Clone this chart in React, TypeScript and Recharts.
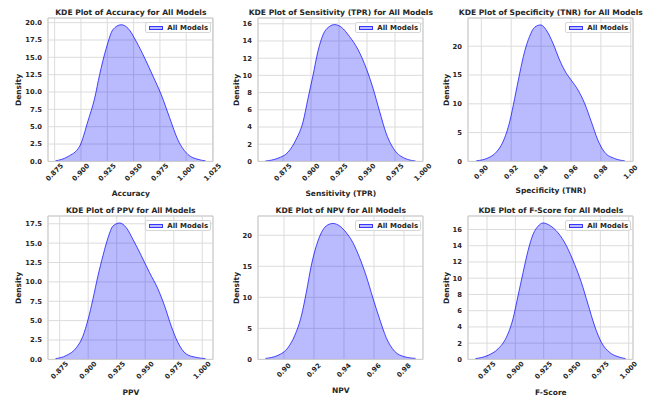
import React from 'react';
import { AreaChart, Area, XAxis, YAxis, CartesianGrid, ReferenceArea } from 'recharts';

const FONT = '"DejaVu Sans", sans-serif';
const TEXT = '#262626';

// KDE curves (x value, density)
const accuracyX = [0.8758, 0.8877, 0.8988, 0.9066, 0.913, 0.9177, 0.924, 0.9304, 0.9383, 0.9446, 0.9525, 0.9605, 0.9684, 0.9763, 0.9842, 0.9921, 1.0016, 1.011, 1.0183];
const accuracyDensity = [0.08, 0.7, 2.2, 5.8, 9.1, 12.5, 16.3, 19.0, 19.7, 19.2, 17.3, 14.9, 12.3, 9.6, 6.3, 3.1, 1.0, 0.3, 0.08];

const sensitivityX = [0.8594, 0.8705, 0.8795, 0.8869, 0.8929, 0.8973, 0.9018, 0.9062, 0.9107, 0.9167, 0.9211, 0.9271, 0.9345, 0.942, 0.9494, 0.9554, 0.9613, 0.9673, 0.9747, 0.9836, 0.9933];
const sensitivityDensity = [0.05, 0.37, 1.07, 2.6, 4.6, 7.3, 10.0, 12.8, 14.7, 15.7, 15.9, 15.6, 14.5, 13.0, 10.8, 8.5, 5.8, 3.2, 1.3, 0.37, 0.05];

const specificityX = [0.8966, 0.9045, 0.91, 0.9145, 0.919, 0.9223, 0.9257, 0.929, 0.9323, 0.9357, 0.9397, 0.9435, 0.948, 0.9524, 0.9569, 0.9602, 0.9647, 0.9691, 0.9736, 0.978, 0.9825, 0.9892, 0.996];
const specificityDensity = [0.1, 0.6, 1.6, 3.4, 6.9, 10.9, 15.3, 19.1, 21.7, 23.3, 23.7, 22.8, 20.5, 17.6, 15.3, 14.1, 12.4, 10.1, 6.9, 3.7, 1.6, 0.5, 0.1];

const ppvX = [0.8714, 0.8808, 0.8896, 0.8954, 0.9, 0.9042, 0.9086, 0.913, 0.9174, 0.9217, 0.9276, 0.9334, 0.9392, 0.9465, 0.9538, 0.9611, 0.967, 0.9728, 0.9786, 0.9859, 0.9947, 1.0028];
const ppvDensity = [0.1, 0.5, 1.5, 3.0, 5.2, 7.8, 10.8, 13.4, 15.7, 17.2, 17.6, 17.0, 15.5, 13.4, 11.2, 9.1, 6.9, 4.3, 2.2, 0.7, 0.26, 0.1];

const npvX = [0.8877, 0.896, 0.9027, 0.9071, 0.9116, 0.9149, 0.9182, 0.9216, 0.9249, 0.9282, 0.9327, 0.9371, 0.9416, 0.946, 0.9504, 0.9549, 0.9593, 0.9638, 0.9682, 0.9738, 0.9804, 0.9877];
const npvDensity = [0.16, 0.65, 1.9, 3.8, 7.0, 10.8, 15.1, 18.3, 20.4, 21.5, 21.9, 21.5, 20.4, 18.8, 16.4, 13.4, 9.9, 6.5, 3.5, 1.3, 0.43, 0.16];

const fscoreX = [0.8648, 0.8759, 0.8847, 0.892, 0.8979, 0.9023, 0.9068, 0.9112, 0.9156, 0.92, 0.9244, 0.9303, 0.9376, 0.945, 0.9523, 0.9582, 0.9641, 0.97, 0.9759, 0.9832, 0.9906, 0.9972];
const fscoreDensity = [0.1, 0.5, 1.3, 2.7, 5.0, 7.8, 10.7, 13.4, 15.4, 16.4, 16.8, 16.5, 15.6, 14.0, 11.7, 9.5, 6.8, 4.1, 2.1, 0.86, 0.33, 0.1];

// tick labels
const xTicks3 = [0.875, 0.9, 0.925, 0.95, 0.975, 1.0];
const accuracyXTicks = [0.875, 0.9, 0.925, 0.95, 0.975, 1.0, 1.025];
const xTicks2Spec = [0.9, 0.92, 0.94, 0.96, 0.98, 1.0];
const xTicks2Npv = [0.9, 0.92, 0.94, 0.96, 0.98];
const yTicksHalf20 = [0, 2.5, 5, 7.5, 10, 12.5, 15, 17.5, 20];
const yTicksHalf175 = [0, 2.5, 5, 7.5, 10, 12.5, 15, 17.5];
const yTicksEven16 = [0, 2, 4, 6, 8, 10, 12, 14, 16];
const yTicksFive20 = [0, 5, 10, 15, 20];

const PLOT_W = 165;
const PLOT_H = 143.4;
const ML = 50;
const MT = 5;
const MR = 10;
const XH = 40;

const toRows = (xs: number[], ys: number[]) => xs.map((x, i) => ({ x, y: ys[i] }));

const XTick = (props: any) => {
  const { x, y, payload, digits } = props;
  const cy = y + 11;
  return (
    <text
      x={x}
      y={cy}
      textAnchor="middle"
      dominantBaseline="central"
      transform={`rotate(-45, ${x}, ${cy})`}
      style={{ fontFamily: FONT, fontSize: 6.8, fontWeight: 700, fill: TEXT }}
    >
      {Number(payload.value).toFixed(digits)}
    </text>
  );
};

const Panel = ({ left, top, title, xLabel, rows, xDomain, xTicks, xDigits, yMax, yTicks, yDigits, xLabelGap, yLabelGap }: any) => (
  <>
    <div style={{ position: 'absolute', left: left + PLOT_W / 2, top: top - 6, transform: 'translate(-50%, -50%)', whiteSpace: 'nowrap', fontFamily: FONT, fontWeight: 700, fontSize: 7.6, color: TEXT }}>
      {title}
    </div>
    <div style={{ position: 'absolute', left: left - ML, top: top - MT }}>
      <AreaChart width={ML + PLOT_W + MR} height={MT + PLOT_H + XH} data={rows} margin={{ top: MT, right: MR, left: 0, bottom: 0 }}>
        <CartesianGrid stroke="#dcdcdc" strokeWidth={1} />
        <XAxis
          type="number"
          dataKey="x"
          domain={xDomain}
          ticks={xTicks}
          interval={0}
          allowDataOverflow
          height={XH}
          axisLine={false}
          tickLine={false}
          tickSize={0}
          tickMargin={0}
          tick={(p: any) => <XTick {...p} digits={xDigits} />}
        />
        <YAxis
          type="number"
          domain={[0, yMax]}
          ticks={yTicks}
          interval={0}
          allowDataOverflow
          width={ML}
          axisLine={false}
          tickLine={false}
          tickSize={0}
          tickMargin={6}
          tickFormatter={(v: number) => v.toFixed(yDigits)}
          tick={{ fontFamily: FONT, fontSize: 6.8, fontWeight: 700, fill: TEXT }}
        />
        <Area
          type="monotone"
          dataKey="y"
          stroke="#0000ff"
          strokeOpacity={0.7}
          strokeWidth={1}
          fill="#0000ff"
          fillOpacity={0.27}
          dot={false}
          activeDot={false}
          isAnimationActive={false}
        />
        <ReferenceArea x1={xDomain[0]} x2={xDomain[1]} y1={0} y2={yMax} fill="none" stroke="#cccccc" strokeWidth={1} ifOverflow="visible" />
      </AreaChart>
    </div>
    <div style={{ position: 'absolute', left: left + PLOT_W - 68, top: top + 4, width: 66, height: 11, boxSizing: 'border-box', border: '1px solid #d6d6d6', borderRadius: 2, background: 'rgba(255,255,255,0.8)', display: 'flex', alignItems: 'center' }}>
      <div style={{ marginLeft: 2.5, width: 14, height: 4.5, background: 'rgba(0,0,255,0.27)', border: '1px solid rgba(0,0,255,0.7)', boxSizing: 'border-box' }} />
      <span style={{ marginLeft: 4.5, fontFamily: FONT, fontWeight: 700, fontSize: 7, color: TEXT, whiteSpace: 'nowrap' }}>All Models</span>
    </div>
    <div style={{ position: 'absolute', left: left + PLOT_W / 2, top: top + PLOT_H + xLabelGap, transform: 'translate(-50%, -50%)', whiteSpace: 'nowrap', fontFamily: FONT, fontWeight: 700, fontSize: 7.5, color: TEXT }}>
      {xLabel}
    </div>
    <div style={{ position: 'absolute', left: left - yLabelGap, top: top + PLOT_H / 2, transform: 'translate(-50%, -50%) rotate(-90deg)', whiteSpace: 'nowrap', fontFamily: FONT, fontWeight: 700, fontSize: 7.5, color: TEXT }}>
      Density
    </div>
  </>
);

export default function App() {
  return (
    <div style={{ position: 'absolute', left: 0, top: 0, width: 656, height: 398, background: '#fff', overflow: 'hidden' }}>
      <Panel left={48.3} top={18.3} title="KDE Plot of Accuracy for All Models" xLabel="Accuracy"
        rows={toRows(accuracyX, accuracyDensity)} xDomain={[0.8687, 1.0254]} xTicks={accuracyXTicks} xDigits={3}
        yMax={20.67} yTicks={yTicksHalf20} yDigits={1} xLabelGap={31.6} yLabelGap={30} />
      <Panel left={258.3} top={18.3} title="KDE Plot of Sensitivity (TPR) for All Models" xLabel="Sensitivity (TPR)"
        rows={toRows(sensitivityX, sensitivityDensity)} xDomain={[0.8527, 1.0]} xTicks={xTicks3} xDigits={3}
        yMax={16.67} yTicks={yTicksEven16} yDigits={0} xLabelGap={31.6} yLabelGap={22.6} />
      <Panel left={468.3} top={18.3} title="KDE Plot of Specificity (TNR) for All Models" xLabel="Specificity (TNR)"
        rows={toRows(specificityX, specificityDensity)} xDomain={[0.8911, 1.0015]} xTicks={xTicks2Spec} xDigits={2}
        yMax={24.9} yTicks={yTicksFive20} yDigits={0} xLabelGap={28.3} yLabelGap={22.3} />
      <Panel left={48.3} top={216.3} title="KDE Plot of PPV for All Models" xLabel="PPV"
        rows={toRows(ppvX, ppvDensity)} xDomain={[0.8648, 1.0094]} xTicks={xTicks3} xDigits={3}
        yMax={18.5} yTicks={yTicksHalf175} yDigits={1} xLabelGap={32} yLabelGap={30} />
      <Panel left={258.3} top={216.3} title="KDE Plot of NPV for All Models" xLabel="NPV"
        rows={toRows(npvX, npvDensity)} xDomain={[0.8827, 0.9927]} xTicks={xTicks2Npv} xDigits={2}
        yMax={23.1} yTicks={yTicksFive20} yDigits={0} xLabelGap={30} yLabelGap={22.6} />
      <Panel left={468.3} top={216.3} title="KDE Plot of F-Score for All Models" xLabel="F-Score"
        rows={toRows(fscoreX, fscoreDensity)} xDomain={[0.8582, 1.0038]} xTicks={xTicks3} xDigits={3}
        yMax={17.66} yTicks={yTicksEven16} yDigits={0} xLabelGap={32} yLabelGap={22.3} />
    </div>
  );
}
